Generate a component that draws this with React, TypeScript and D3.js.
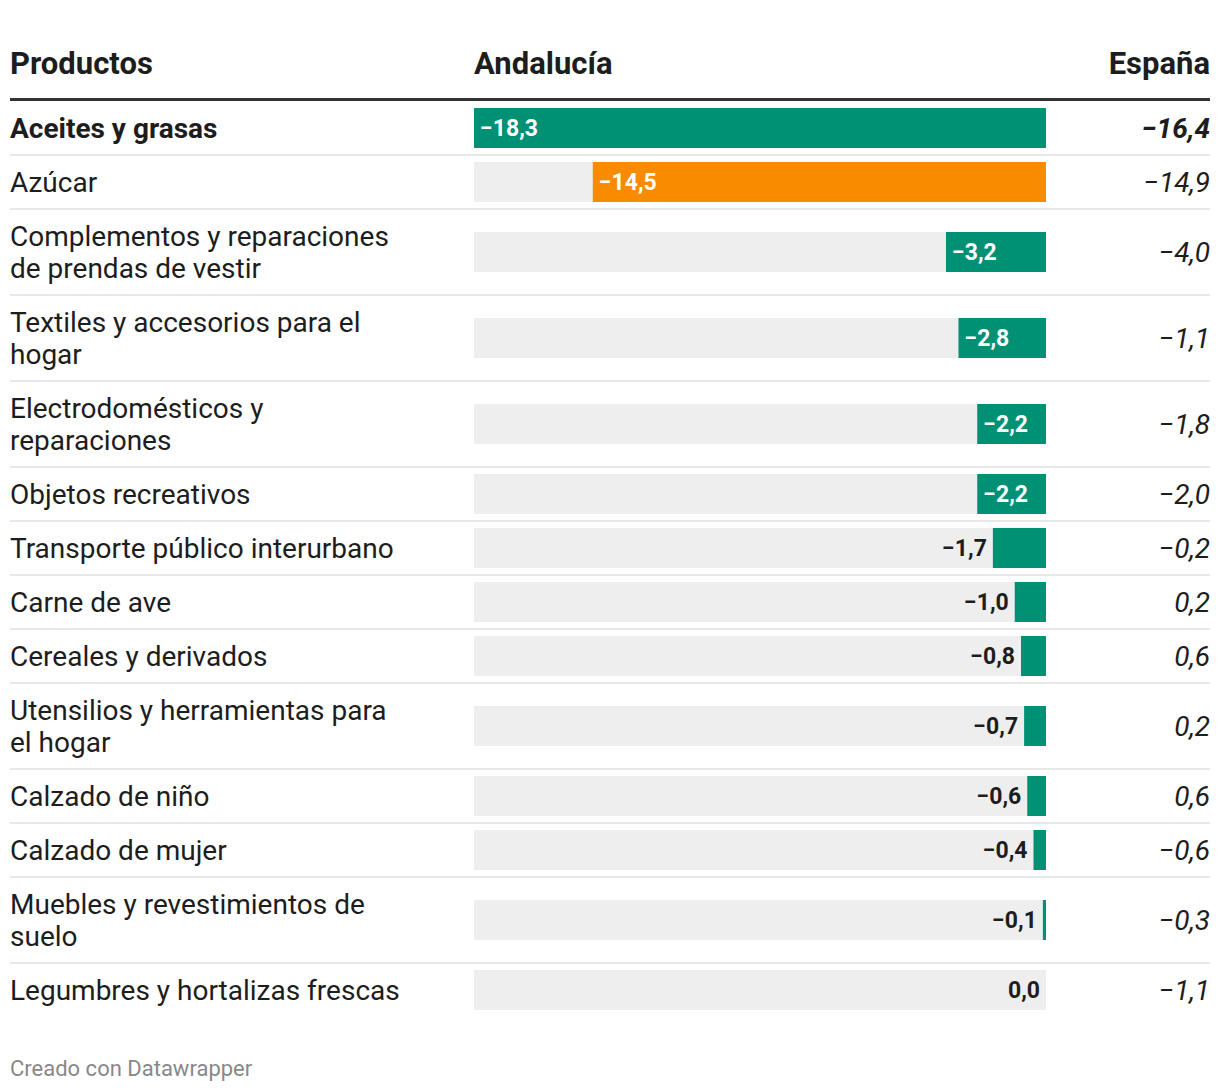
import React from 'react';
import * as d3 from 'd3';

// Variación de precios por producto (%)
const productLines: string[][] = [
  ['Aceites y grasas'],
  ['Azúcar'],
  ['Complementos y reparaciones', 'de prendas de vestir'],
  ['Textiles y accesorios para el', 'hogar'],
  ['Electrodomésticos y', 'reparaciones'],
  ['Objetos recreativos'],
  ['Transporte público interurbano'],
  ['Carne de ave'],
  ['Cereales y derivados'],
  ['Utensilios y herramientas para', 'el hogar'],
  ['Calzado de niño'],
  ['Calzado de mujer'],
  ['Muebles y revestimientos de', 'suelo'],
  ['Legumbres y hortalizas frescas'],
];
const andalucia = [-18.3, -14.5, -3.2, -2.8, -2.2, -2.2, -1.7, -1.0, -0.8, -0.7, -0.6, -0.4, -0.1, 0.0];
const espana = [-16.4, -14.9, -4.0, -1.1, -1.8, -2.0, -0.2, 0.2, 0.6, 0.2, 0.6, -0.6, -0.3, -1.1];
const highlight = [false, true, false, false, false, false, false, false, false, false, false, false, false, false];

const W = 1220;
const H = 1092;
const left = 10;
const right = 1210;
const barX0 = 474;
const barX1 = 1046;
const headerY = 101;
const lineH = 32;
const font = 'Roboto, sans-serif';
const green = '#009175';
const orange = '#f98b00';
const dark = '#1d1d1d';

const fmt = (v: number) => {
  const s = Math.abs(v).toFixed(1).replace('.', ',');
  return v < 0 ? '−' + s : s;
};

export default function App() {
  const x = d3.scaleLinear().domain([0, d3.min(andalucia) as number]).range([barX1, barX0]);

  // row geometry
  const heights = productLines.map((l) => (l.length > 1 ? 86 : 54));
  const tops: number[] = [];
  heights.reduce((acc, h) => {
    tops.push(acc);
    return acc + h;
  }, headerY);

  return (
    <div style={{ position: 'absolute', left: 0, top: 0 }}>
      <svg width={W} height={H} style={{ display: 'block', fontFamily: font }}>
        <rect width={W} height={H} fill="#fff" />
        <text x={left} y={74} fontSize={31} fontWeight={700} fill={dark}>Productos</text>
        <text x={barX0} y={74} fontSize={31} fontWeight={700} fill={dark}>Andalucía</text>
        <text x={right} y={74} fontSize={31} fontWeight={700} fill={dark} textAnchor="end">España</text>
        <line x1={left} x2={right} y1={headerY - 1.5} y2={headerY - 1.5} stroke="#333" strokeWidth={3} />

        {productLines.map((lines, i) => {
          const top = tops[i];
          const h = heights[i];
          const cy = top + h / 2;
          const v = andalucia[i];
          const bx = x(v);
          const bw = barX1 - bx;
          const first = i === 0;
          const labelW = fmt(v).length * 12 + 6;
          const inside = bw >= labelW + 12;
          const color = highlight[i] ? orange : green;
          return (
            <g key={i}>
              {i < productLines.length - 1 && (
                <line x1={left} x2={right} y1={top + h} y2={top + h} stroke="#e8e8e8" strokeWidth={2} />
              )}
              {lines.map((l, j) => (
                <text
                  key={j}
                  x={left}
                  y={cy + (j - (lines.length - 1) / 2) * lineH}
                  dy="0.35em"
                  fontSize={28}
                  fontWeight={first ? 700 : 400}
                  fill={dark}
                >
                  {l}
                </text>
              ))}
              <rect x={barX0} y={cy - 20} width={barX1 - barX0} height={40} fill="#eeeeee" />
              <rect x={bx} y={cy - 20} width={bw} height={40} fill={color} />
              <text
                x={inside ? bx + 6 : bx - 6}
                y={cy}
                dy="0.35em"
                fontSize={23}
                fontWeight={700}
                textAnchor={inside ? 'start' : 'end'}
                fill={inside ? '#fff' : dark}
              >
                {fmt(v)}
              </text>
              <text
                x={right}
                y={cy}
                dy="0.35em"
                fontSize={28}
                fontStyle="italic"
                fontWeight={first ? 700 : 400}
                textAnchor="end"
                fill={dark}
              >
                {fmt(espana[i])}
              </text>
            </g>
          );
        })}

        <text x={left} y={1076} fontSize={22} fill="#888">Creado con Datawrapper</text>
      </svg>
    </div>
  );
}
